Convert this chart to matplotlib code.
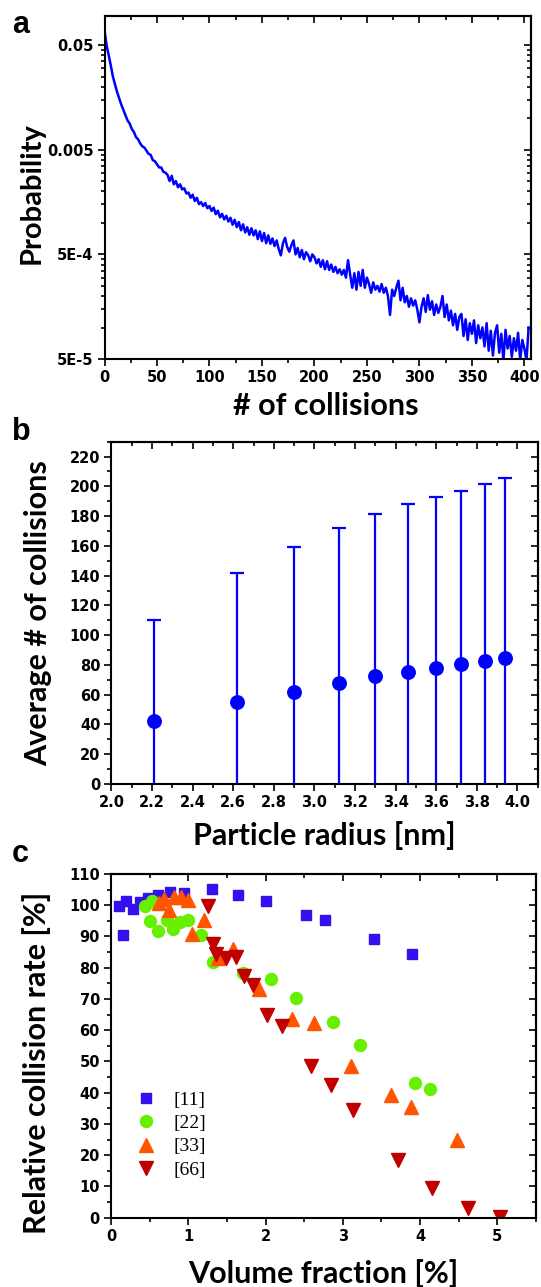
import numpy as np
import matplotlib
matplotlib.use("Agg")
import matplotlib.pyplot as plt
from matplotlib.ticker import MultipleLocator, FixedLocator, FixedFormatter, NullFormatter, FormatStrFormatter

# ---------------- Panel a: probability distribution of collisions ----------------
collisions = np.arange(0, 405, 2)
probability = [
    6.9e-2, 5.0e-2, 4.0e-2, 3.2e-2, 2.5e-2, 2.1e-2, 1.78e-2, 1.55e-2, 1.35e-2, 1.2e-2,
    1.07e-2, 9.5e-3, 8.9e-3, 7.9e-3, 7.4e-3, 6.6e-3, 6.3e-3, 5.75e-3, 5.4e-3, 5.25e-3,
    4.9e-3, 4.57e-3, 4.47e-3, 3.98e-3, 3.89e-3, 3.63e-3, 3.39e-3, 3.39e-3, 3.09e-3, 3.02e-3,
    2.88e-3, 2.51e-3, 2.82e-3, 2.34e-3, 2.51e-3, 2.19e-3, 2.34e-3, 2.09e-3, 2.14e-3, 1.91e-3,
    1.95e-3, 1.74e-3, 1.86e-3, 1.62e-3, 1.74e-3, 1.51e-3, 1.58e-3, 1.45e-3, 1.55e-3, 1.38e-3,
    1.45e-3, 1.30e-3, 1.40e-3, 1.21e-3, 1.31e-3, 1.13e-3, 1.22e-3, 1.08e-3, 1.17e-3, 1.03e-3,
    1.12e-3, 9.6e-4, 1.07e-3, 9.1e-4, 1.02e-3, 8.5e-4, 9.7e-4, 8.1e-4, 9.1e-4, 7.7e-4,
    8.9e-4, 7.6e-4, 8.5e-4, 7.0e-4, 8.3e-4, 6.7e-4, 8.0e-4, 6.4e-4, 7.6e-4, 6.3e-4,
    7.1e-4, 6.0e-4, 6.8e-4, 5.6e-4, 4.9e-4, 6.4e-4, 7.2e-4, 5.9e-4, 5.3e-4, 6.1e-4,
    6.8e-4, 5.0e-4, 5.75e-4, 4.7e-4, 5.5e-4, 4.5e-4, 5.25e-4, 4.9e-4, 4.3e-4, 5.0e-4,
    4.7e-4, 4.1e-4, 4.5e-4, 3.8e-4, 4.4e-4, 3.6e-4, 4.3e-4, 3.55e-4, 4.0e-4, 3.4e-4,
    3.8e-4, 3.3e-4, 3.6e-4, 3.2e-4, 3.55e-4, 3.0e-4, 4.4e-4, 3.2e-4, 2.4e-4, 3.3e-4,
    2.3e-4, 3.4e-4, 2.5e-4, 3.55e-4, 2.4e-4, 3.0e-4, 2.6e-4, 2.15e-4, 2.7e-4, 2.3e-4,
    2.5e-4, 2.2e-4, 2.6e-4, 2.15e-4, 2.4e-4, 2.0e-4, 1.32e-4, 2.3e-4, 2.0e-4, 2.4e-4,
    2.8e-4, 1.82e-4, 2.4e-4, 1.74e-4, 2.0e-4, 1.58e-4, 1.9e-4, 1.62e-4, 1.82e-4, 1.48e-4,
    1.12e-4, 1.58e-4, 1.9e-4, 1.41e-4, 2.04e-4, 1.48e-4, 1.78e-4, 1.32e-4, 1.66e-4, 1.38e-4,
    1.58e-4, 2.0e-4, 1.26e-4, 1.66e-4, 1.17e-4, 1.45e-4, 1.05e-4, 1.35e-4, 9.5e-5, 1.26e-4,
    1.35e-4, 8.3e-5, 1.2e-4, 7.6e-5, 1.1e-4, 8.7e-5, 1.17e-4, 7.1e-5, 1.05e-4, 7.9e-5,
    1.0e-4, 6.6e-5, 1.1e-4, 6.0e-5, 9.3e-5, 5.4e-5, 8.9e-5, 1.05e-4, 5.75e-5, 8.7e-5,
    4.8e-5, 9.5e-5, 6.3e-5, 8.3e-5, 5.25e-5, 7.9e-5, 6.0e-5, 8.9e-5, 4.9e-5, 7.6e-5,
    6.3e-5, 4.8e-5, 1.0e-4,
]
prob_ticks = [5e-5, 5e-4, 5e-3, 5e-2]
prob_ticklabels = ["5E-5", "5E-4", "0.005", "0.05"]

# ---------------- Panel b: average collisions vs radius ----------------
radius = [2.21, 2.62, 2.90, 3.12, 3.30, 3.46, 3.60, 3.72, 3.84, 3.94]
avg_collisions = [42, 55, 62, 68, 72.5, 75.5, 78, 80.5, 82.5, 84.5]
upper_bar = [110.5, 141.5, 159, 172, 181.5, 188, 193, 197, 201.5, 205.5]
std_collisions = [u - m for u, m in zip(upper_bar, avg_collisions)]

# ---------------- Panel c: relative collision rate ----------------
vf_11 = [0.10, 0.15, 0.20, 0.29, 0.37, 0.48, 0.61, 0.76, 0.95, 1.31, 1.64, 2.00, 2.53, 2.77, 3.40, 3.90]
rate_11 = [99.9, 90.5, 101.5, 98.8, 101.0, 102.2, 103.3, 104.3, 103.8, 105.2, 103.2, 101.2, 96.9, 95.3, 89.1, 84.3]

vf_22 = [0.44, 0.53, 0.50, 0.61, 0.72, 0.80, 0.89, 0.99, 1.17, 1.32, 1.71, 2.07, 2.39, 2.87, 3.22, 3.93, 4.13]
rate_22 = [99.8, 101.2, 95.1, 91.9, 95.3, 92.3, 94.5, 95.4, 90.4, 81.8, 78.2, 76.4, 70.2, 62.6, 55.3, 43.2, 41.1]

vf_33 = [0.62, 0.68, 0.75, 0.81, 0.90, 0.99, 1.05, 1.20, 1.38, 1.58, 1.91, 2.34, 2.63, 3.10, 3.62, 3.88, 4.48]
rate_33 = [100.8, 102.0, 98.5, 102.6, 102.5, 101.6, 90.9, 95.2, 83.0, 86.1, 73.2, 63.5, 62.2, 48.6, 39.3, 35.5, 24.9]

vf_66 = [1.26, 1.32, 1.36, 1.49, 1.62, 1.72, 1.84, 2.02, 2.21, 2.59, 2.85, 3.13, 3.71, 4.16, 4.62, 5.04]
rate_66 = [99.6, 87.6, 84.3, 83.0, 83.5, 77.3, 74.6, 64.9, 61.2, 48.7, 42.5, 34.5, 18.5, 9.4, 3.0, 0.3]

series_labels = ["[11]", "[22]", "[33]", "[66]"]

# ---------------- Style ----------------
plt.rcParams["font.family"] = ["DejaVu Sans"]
plt.rcParams["font.weight"] = "bold"
plt.rcParams["axes.linewidth"] = 1.5
LABEL_FONT = dict(family=["Lato", "DejaVu Sans"], weight="bold", size=22)
TICK_SIZE = 10.5

fig = plt.figure(figsize=(5.41, 12.87), dpi=100)
W, H = 541.0, 1287.0


def add_axes(left, right, top, bottom):
    return fig.add_axes([left / W, 1 - bottom / H, (right - left) / W, (bottom - top) / H])


def style_ticks(ax, xmaj, xmin, ymaj, ymin, xfmt=None, yfmt=None):
    ax.tick_params(which="both", direction="out", top=False, right=False,
                   width=1.2, labelsize=TICK_SIZE, pad=3)
    ax.tick_params(which="major", length=5)
    ax.tick_params(which="minor", length=3)
    ax.xaxis.set_major_locator(xmaj)
    ax.xaxis.set_minor_locator(xmin)
    ax.yaxis.set_major_locator(ymaj)
    ax.yaxis.set_minor_locator(ymin)
    if xfmt is not None:
        ax.xaxis.set_major_formatter(xfmt)
    if yfmt is not None:
        ax.yaxis.set_major_formatter(yfmt)
    ax.xaxis.set_minor_formatter(NullFormatter())
    ax.yaxis.set_minor_formatter(NullFormatter())
    top = ax.secondary_xaxis("top")
    top.xaxis.set_major_locator(xmaj)
    top.xaxis.set_minor_locator(xmin)
    top.tick_params(which="both", direction="in", labeltop=False, width=1.2)
    top.tick_params(which="major", length=5)
    top.tick_params(which="minor", length=3)
    right = ax.secondary_yaxis("right")
    right.yaxis.set_major_locator(ymaj)
    right.yaxis.set_minor_locator(ymin)
    right.yaxis.set_minor_formatter(NullFormatter())
    right.tick_params(which="both", direction="in", labelright=False, width=1.2)
    right.tick_params(which="major", length=5)
    right.tick_params(which="minor", length=3)


# ---------------- Panel a ----------------
axa = add_axes(104.5, 530.7, 16, 359)
axa.set_yscale("log")
axa.plot(collisions, probability, color="#0000FF", lw=1.8)
axa.set_xlim(0, 406)
axa.set_ylim(5e-5, 0.095)
minor_a = [d * k for d in (5e-5, 5e-4, 5e-3) for k in range(2, 10)]
style_ticks(axa, MultipleLocator(50), MultipleLocator(25),
            FixedLocator(prob_ticks), FixedLocator(minor_a),
            yfmt=FixedFormatter(prob_ticklabels))
axa.set_xlabel("# of collisions", **LABEL_FONT)
axa.set_ylabel("Probability", **dict(LABEL_FONT, size=21))
axa.xaxis.set_label_coords(0.52, -0.095)
axa.yaxis.set_label_coords(-0.14, 0.485)

# ---------------- Panel b ----------------
axb = add_axes(111.4, 537.7, 441.7, 784)
axb.errorbar(radius, avg_collisions, yerr=std_collisions, fmt="o", color="#0000FF",
             ms=9.7, elinewidth=1.6, capsize=5, capthick=1.6)
axb.set_xlim(2.0, 4.1)
axb.set_ylim(0, 230)
style_ticks(axb, MultipleLocator(0.2), MultipleLocator(0.1),
            MultipleLocator(20), MultipleLocator(10))
axb.xaxis.set_major_formatter(FormatStrFormatter("%.1f"))
axb.set_xlabel("Particle radius [nm]", **LABEL_FONT)
axb.set_ylabel("Average # of collisions", **LABEL_FONT)
axb.xaxis.set_label_coords(0.5, -0.108)
axb.yaxis.set_label_coords(-0.139, 0.5)

# ---------------- Panel c ----------------
axc = add_axes(111, 536, 874, 1217.7)
axc.plot(vf_11, rate_11, ls="none", marker="s", ms=7.9, color="#3311EE", label=series_labels[0])
axc.plot(vf_22, rate_22, ls="none", marker="o", ms=8.6, color="#66F000", label=series_labels[1])
axc.plot(vf_33, rate_33, ls="none", marker="^", ms=10, color="#FF5500", label=series_labels[2])
axc.plot(vf_66, rate_66, ls="none", marker="v", ms=10, color="#C00000", label=series_labels[3])
axc.set_xlim(0, 5.5)
axc.set_ylim(0, 110)
style_ticks(axc, MultipleLocator(1), MultipleLocator(0.5),
            MultipleLocator(10), MultipleLocator(5))
axc.set_xlabel("Volume fraction [%]", **LABEL_FONT)
axc.set_ylabel("Relative collision rate [%]", **LABEL_FONT)
axc.xaxis.set_label_coords(0.5, -0.12)
axc.yaxis.set_label_coords(-0.141, 0.45)
leg = axc.legend(loc="upper left", bbox_to_anchor=(0.06, 0.368), frameon=False,
                 prop=dict(family="Liberation Serif", weight="normal", size=14),
                 handlelength=1.0, handletextpad=0.9, labelspacing=0.29,
                 borderpad=0, borderaxespad=0, numpoints=1)

# ---------------- Panel letters ----------------
letter_font = dict(family=["Liberation Sans", "DejaVu Sans"], weight="bold", size=22)
fig.text(12 / W, 1 - 33 / H, "a", ha="left", va="baseline", **letter_font)
fig.text(12 / W, 1 - 440 / H, "b", ha="left", va="baseline", **letter_font)
fig.text(12 / W, 1 - 862 / H, "c", ha="left", va="baseline", **letter_font)

fig.savefig("out.png", dpi=100)
